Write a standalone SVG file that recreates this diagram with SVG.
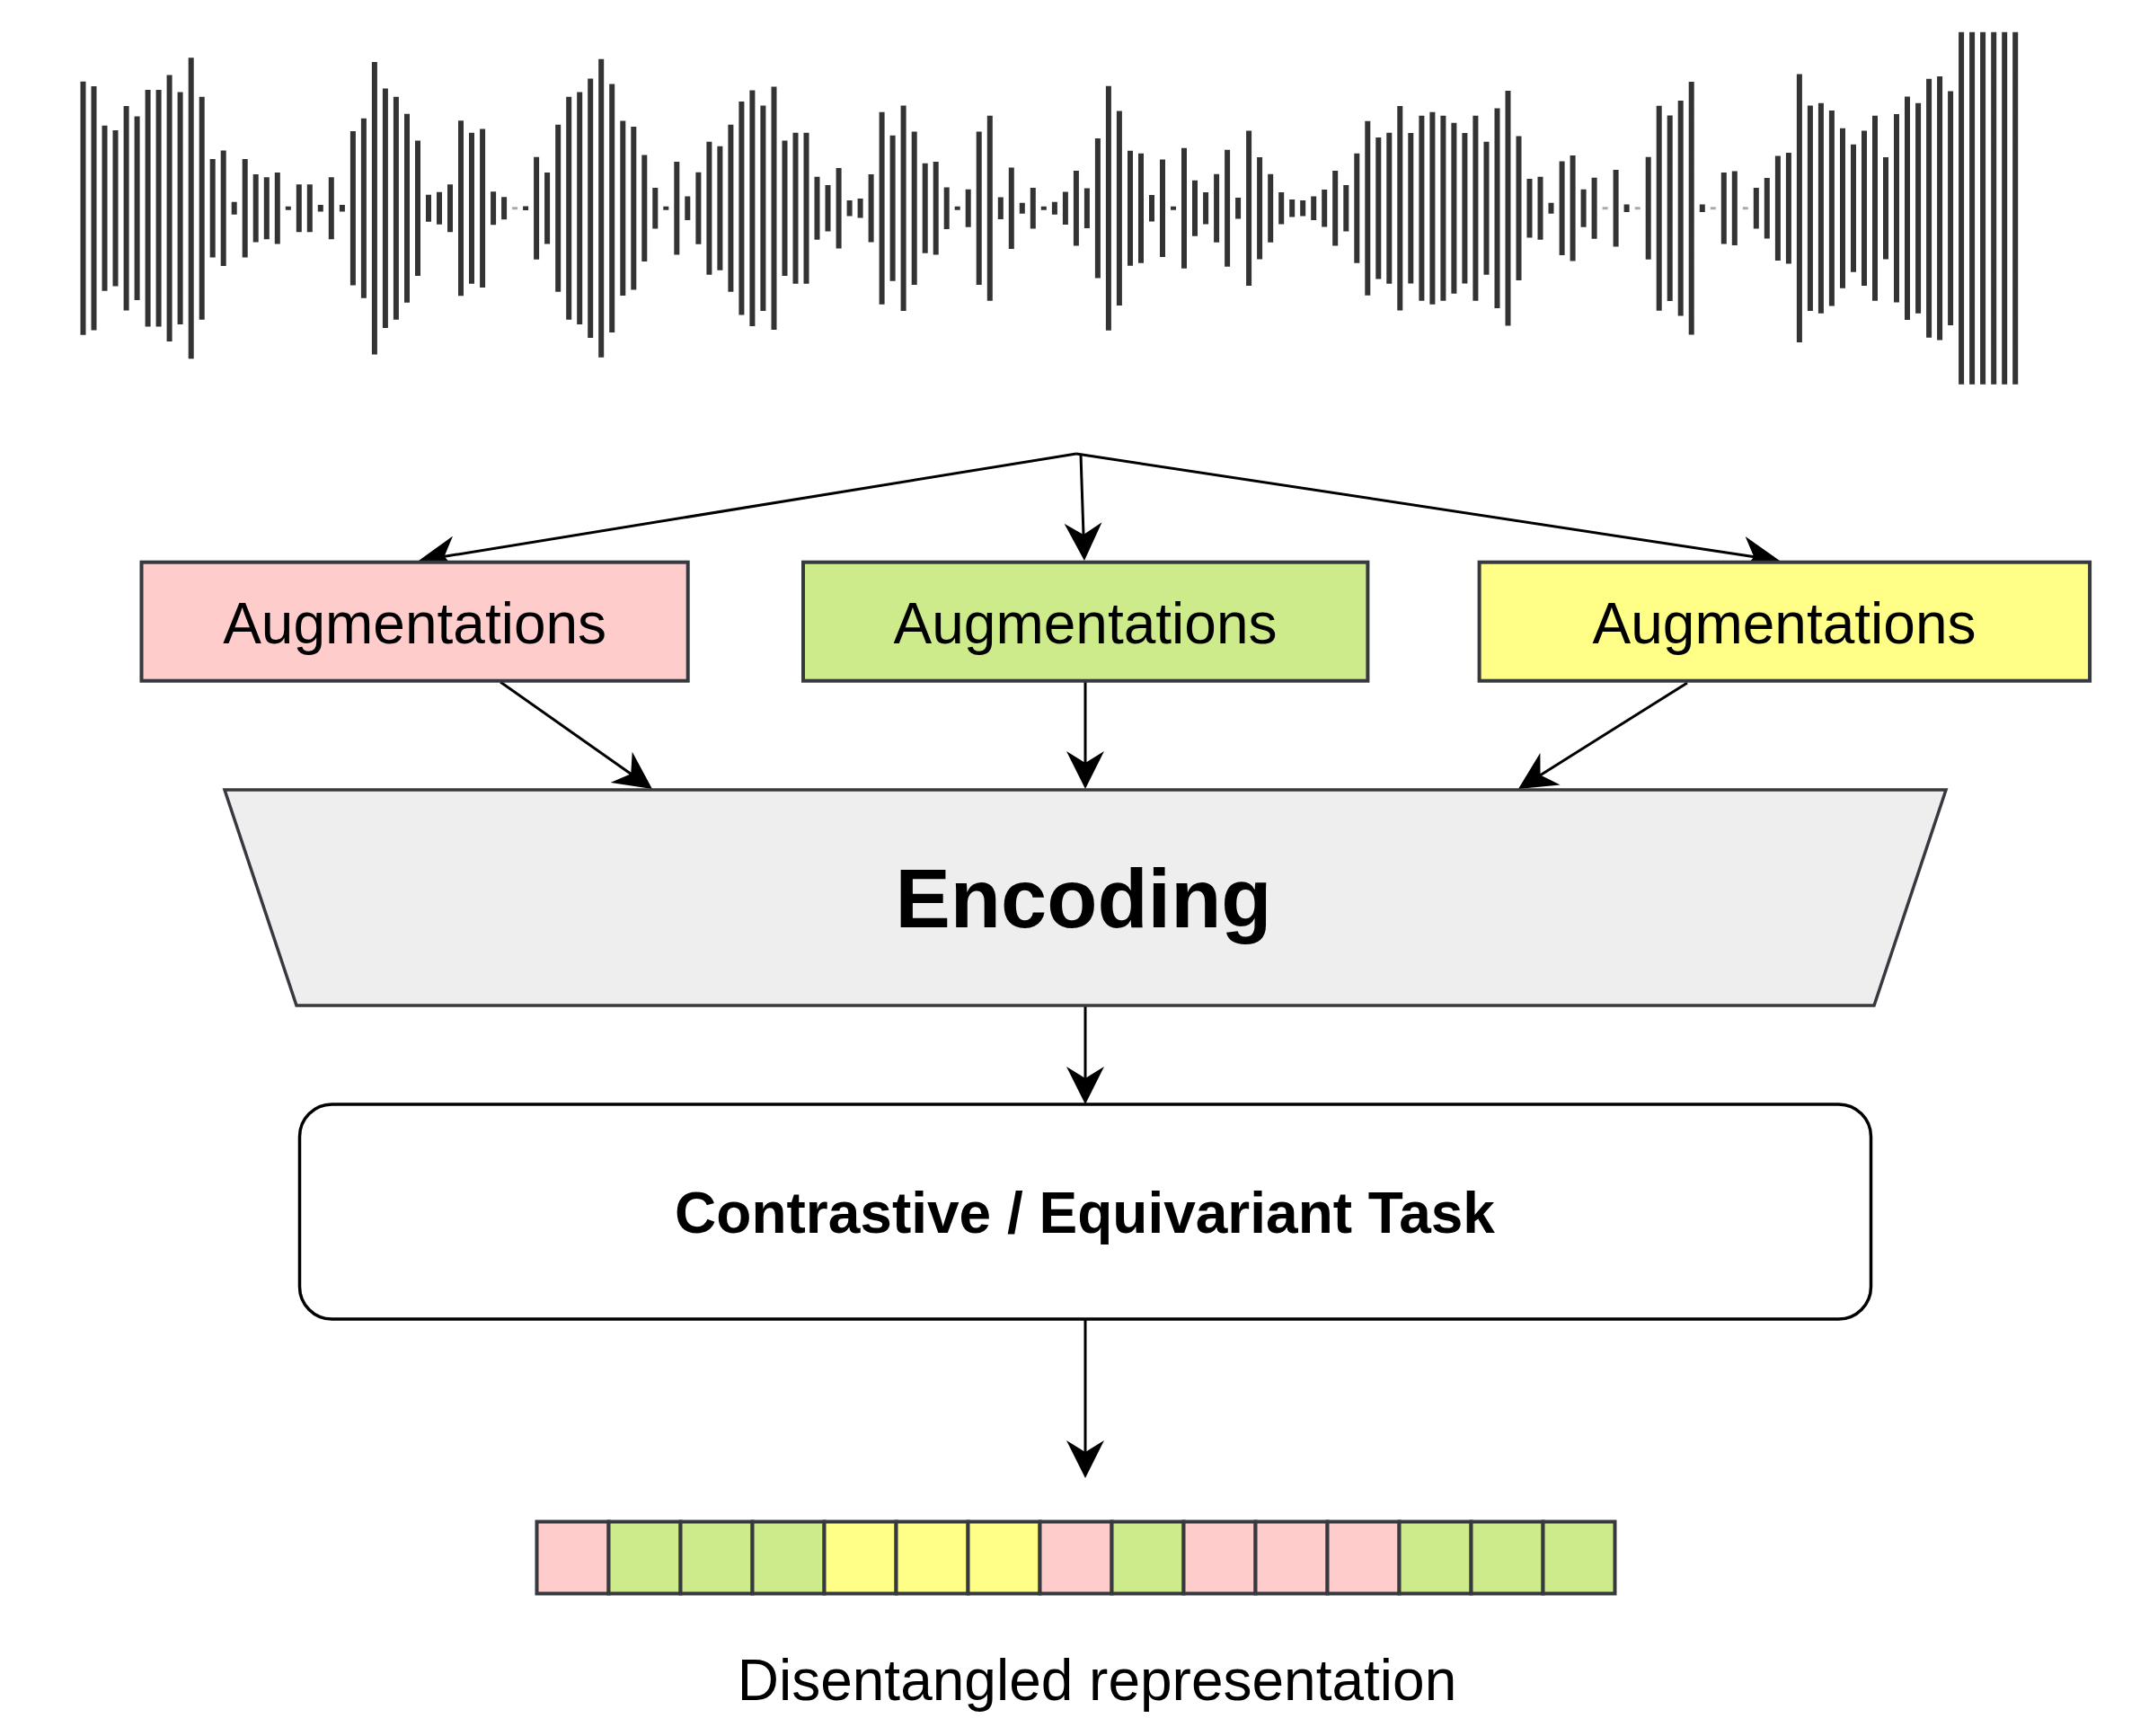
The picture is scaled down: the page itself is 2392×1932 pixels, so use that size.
<svg xmlns="http://www.w3.org/2000/svg" width="2392" height="1932" viewBox="0 0 2392 1932">
<style>
.lbl{font-family:"Liberation Sans",Arial,Helvetica,sans-serif;font-size:64px;fill:#000;text-anchor:middle}
.b{font-weight:bold}
.box{stroke:#36393d;stroke-width:4}
.pink{fill:#ffcccc}.green{fill:#cdeb8b}.yellow{fill:#ffff88}
.conn{fill:none;stroke:#000;stroke-width:3}
.wave{fill:none;stroke:#333;stroke-width:6}
</style>
<defs>
<marker id="arr" markerUnits="userSpaceOnUse" viewBox="0 0 42 42" markerWidth="42" markerHeight="42" refX="22" refY="21" orient="auto">
<path d="M42 21L0 0L13 21L0 42Z" fill="#000"/>
</marker>
</defs>
<rect width="2392" height="1932" fill="#fff"/>
<g id="waveform" transform="translate(0,231.7)">
<path class="wave" d="M92.5 -141V141M104.5 -135.7V135.7M116.5 -92V92M128.5 -86.7V86.7M140.6 -113.7V113.7M152.6 -102.3V102.3M164.6 -131.7V131.7M176.6 -131.7V131.7M188.6 -148.3V148.3M200.6 -129.3V129.3M212.7 -167.5V167.5M224.7 -124V124M236.7 -54.8V54.8M248.7 -64.3V64.3M260.7 -7V7M272.7 -54.8V54.8M284.7 -37.8V37.8M296.8 -34.5V34.5M308.8 -39.8V39.8M320.8 -2V2M332.8 -26.5V26.5M344.8 -26.5V26.5M356.8 -3.8V3.8M368.8 -34.5V34.5M380.9 -3.8V3.8M392.9 -85.7V85.7M404.9 -100V100M416.9 -162.7V162.7M428.9 -133.3V133.3M440.9 -124V124M453 -105V105M465 -75.3V75.3M477 -15V15M489 -18V18M501 -26.5V26.5M513 -97.5V97.5M525 -84V84M537.1 -88.3V88.3M549.1 -18.5V18.5M561.1 -12.5V12.5M585.1 -2.3V2.3M597.1 -57V57M609.1 -39.8V39.8M621.2 -93V93M633.2 -124V124M645.2 -129.3V129.3M657.2 -144.3V144.3M669.2 -166V166M681.2 -138.3V138.3M693.3 -97.3V97.3M705.3 -90.7V90.7M717.3 -59.3V59.3M729.3 -22.7V22.7M741.3 -2V2M753.3 -51.7V51.7M765.3 -13.3V13.3M777.4 -40V40M789.4 -74V74M801.4 -69V69M813.4 -93V93M825.4 -118.7V118.7M837.4 -131.3V131.3M849.4 -114.3V114.3M861.5 -135.3V135.3M873.5 -75.3V75.3M885.5 -84V84M897.5 -84V84M909.5 -35V35M921.5 -25.7V25.7M933.6 -44.7V44.7M945.6 -8.7V8.7M957.6 -10.7V10.7M969.6 -37.7V37.7M981.6 -107V107M993.6 -81V81M1005.6 -114.3V114.3M1017.7 -85.3V85.3M1029.7 -50V50M1041.7 -51.7V51.7M1053.7 -23.3V23.3M1065.7 -2V2M1077.7 -21V21M1089.7 -85.3V85.3M1101.8 -103V103M1113.8 -12.3V12.3M1125.8 -45.3V45.3M1137.8 -6V6M1149.8 -22.7V22.7M1161.8 -2V2M1173.9 -7V7M1185.9 -18.3V18.3M1197.9 -41.7V41.7M1209.9 -22.3V22.3M1221.9 -77.7V77.7M1233.9 -136V136M1245.9 -108.3V108.3M1258 -64V64M1270 -61V61M1282 -14.7V14.7M1294 -54.3V54.3M1306 -2V2M1318 -67V67M1330 -31V31M1342.1 -17.7V17.7M1354.1 -38V38M1366.1 -65V65M1378.1 -11.7V11.7M1390.1 -86.3V86.3M1402.1 -56.7V56.7M1414.2 -38V38M1426.2 -17.7V17.7M1438.2 -9.7V9.7M1450.2 -8.7V8.7M1462.2 -13.3V13.3M1474.2 -20.7V20.7M1486.2 -41.7V41.7M1498.3 -25.7V25.7M1510.3 -61V61M1522.3 -97V97M1534.3 -78.7V78.7M1546.3 -84V84M1558.3 -113.7V113.7M1570.3 -83.7V83.7M1582.4 -103V103M1594.4 -107V107M1606.4 -103V103M1618.4 -95V95M1630.4 -83.7V83.7M1642.4 -103V103M1654.5 -74V74M1666.5 -111.3V111.3M1678.5 -130.7V130.7M1690.5 -80.3V80.3M1702.5 -32.7V32.7M1714.5 -35V35M1726.5 -6V6M1738.6 -52.3V52.3M1750.6 -58.7V58.7M1762.6 -21V21M1774.6 -34V34M1798.6 -42.7V42.7M1810.6 -4.3V4.3M1834.7 -57V57M1846.7 -114V114M1858.7 -103.3V103.3M1870.7 -119.7V119.7M1882.7 -140.7V140.7M1894.8 -4.3V4.3M1918.8 -39.7V39.7M1930.8 -41.3V41.3M1954.8 -22.7V22.7M1966.8 -33.7V33.7M1978.9 -58.3V58.3M1990.9 -61.7V61.7M2002.9 -149.3V149.3M2014.9 -114.3V114.3M2026.9 -117V117M2038.9 -108.7V108.7M2051 -89V89M2063 -71V71M2075 -86.3V86.3M2087 -103V103M2099 -56.7V56.7M2111 -104.7V104.7M2123 -124.3V124.3M2135.1 -117V117M2147.1 -144V144M2159.1 -146.7V146.7M2171.1 -130.3V130.3M2183.1 -196V196M2195.1 -196V196M2207.1 -196V196M2219.2 -196V196M2231.2 -196V196M2243.2 -196V196"/>
<path fill="none" stroke="#aaa" stroke-width="6" d="M573.1 -1.5V1.5M1786.6 -1.5V1.5M1822.7 -1.5V1.5M1906.8 -1.5V1.5M1942.8 -1.5V1.5"/>
</g>
<g id="connectors">
<path class="conn" d="M1198 505L485.7 620.8" marker-end="url(#arr)"/>
<path class="conn" d="M1203 506L1206.3 604" marker-end="url(#arr)"/>
<path class="conn" d="M1198 505L1961.2 621" marker-end="url(#arr)"/>
<path class="conn" d="M557 759L709.6 866.5" marker-end="url(#arr)"/>
<path class="conn" d="M1208 759L1208 858" marker-end="url(#arr)"/>
<path class="conn" d="M1878 760L1706.9 867.4" marker-end="url(#arr)"/>
<path class="conn" d="M1208 1120L1208 1209" marker-end="url(#arr)"/>
<path class="conn" d="M1208 1469L1208 1625" marker-end="url(#arr)"/>
</g>
<g id="aug1">
<rect class="box pink" x="157.5" y="625.7" width="608.2" height="132"/>
<text class="lbl" x="461.6" y="716">Augmentations</text>
</g>
<g id="aug2">
<rect class="box green" x="894" y="625.7" width="628.4" height="132"/>
<text class="lbl" x="1208" y="716">Augmentations</text>
</g>
<g id="aug3">
<rect class="box yellow" x="1646.6" y="625.7" width="679.5" height="132"/>
<text class="lbl" x="1986" y="716">Augmentations</text>
</g>
<g id="encoding">
<polygon points="250,879 2166,879 2086,1119 330,1119" fill="#eeeeee" stroke="#36393d" stroke-width="3.5"/>
<text class="lbl b" x="1206" y="1032" style="font-size:92px">Encoding</text>
</g>
<g id="task">
<rect x="333.5" y="1229" width="1749" height="239" rx="36" ry="36" fill="#fff" stroke="#000" stroke-width="3.5"/>
<text class="lbl b" x="1207.5" y="1372">Contrastive / Equivariant Task</text>
</g>
<g id="representation">
<rect class="box pink" x="597.5" y="1693.5" width="80" height="80"/>
<rect class="box green" x="677.5" y="1693.5" width="80" height="80"/>
<rect class="box green" x="757.5" y="1693.5" width="80" height="80"/>
<rect class="box green" x="837.5" y="1693.5" width="80" height="80"/>
<rect class="box yellow" x="917.5" y="1693.5" width="80" height="80"/>
<rect class="box yellow" x="997.5" y="1693.5" width="80" height="80"/>
<rect class="box yellow" x="1077.5" y="1693.5" width="80" height="80"/>
<rect class="box pink" x="1157.5" y="1693.5" width="80" height="80"/>
<rect class="box green" x="1237.5" y="1693.5" width="80" height="80"/>
<rect class="box pink" x="1317.5" y="1693.5" width="80" height="80"/>
<rect class="box pink" x="1397.5" y="1693.5" width="80" height="80"/>
<rect class="box pink" x="1477.5" y="1693.5" width="80" height="80"/>
<rect class="box green" x="1557.5" y="1693.5" width="80" height="80"/>
<rect class="box green" x="1637.5" y="1693.5" width="80" height="80"/>
<rect class="box green" x="1717.5" y="1693.5" width="80" height="80"/>
</g>
<g id="caption">
<text class="lbl" x="1221" y="1892">Disentangled representation</text>
</g>
</svg>
